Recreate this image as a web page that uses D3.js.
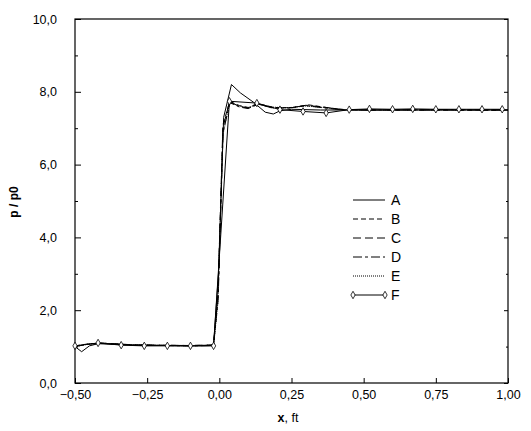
<html>
    <head>
        <meta charset="utf-8">
        <script src="https://d3js.org/d3.v7.min.js"></script>
        <style>
            body { margin: 0; background: #fff; }
            text { font-family: "Liberation Sans", Arial, sans-serif; fill: #000; }
            .axis .domain { stroke: none; }
            .axis line { stroke: #000; }
            .axis text { font-size: 12.5px; }
        </style>
    </head>
    <body>
        <svg height="431" width="531" id="chart"></svg>

        <script>
            // tick labels
            const xTicks = [-0.5, -0.25, 0, 0.25, 0.5, 0.75, 1.0];
            const yTicks = [0, 2, 4, 6, 8, 10];
            const yMinor = [1, 3, 5, 7, 9];
            const seriesNames = ["A", "B", "C", "D", "E", "F"];

            // A: thin solid line with the big overshoot
            const xA = [-0.5, -0.477, -0.45, -0.42, -0.3, -0.1, -0.02, -0.003, 0.015, 0.042, 0.073, 0.119, 0.159, 0.187, 0.211, 0.25, 0.35, 0.6, 1.0];
            const yA = [1.0, 0.86, 1.02, 1.08, 1.04, 1.02, 1.03, 3.0, 7.3, 8.2, 7.97, 7.71, 7.44, 7.39, 7.48, 7.52, 7.5, 7.5, 7.5];
            // B..E: the bundle
            const xB = [-0.5, -0.45, -0.4, -0.3, -0.1, -0.02, -0.004, 0.013, 0.036, 0.07, 0.1, 0.14, 0.19, 0.25, 0.31, 0.37, 0.43, 0.5, 0.75, 1.0];
            const yB = [1.02, 1.08, 1.09, 1.04, 1.03, 1.04, 2.5, 7.1, 7.74, 7.62, 7.57, 7.66, 7.57, 7.56, 7.64, 7.57, 7.51, 7.5, 7.5, 7.49];
            const xC = [-0.5, -0.46, -0.41, -0.3, -0.1, -0.02, -0.005, 0.012, 0.035, 0.07, 0.1, 0.13, 0.18, 0.24, 0.3, 0.36, 0.42, 0.5, 0.7, 1.0];
            const yC = [1.0, 1.06, 1.10, 1.05, 1.03, 1.05, 2.4, 7.0, 7.72, 7.6, 7.55, 7.68, 7.56, 7.55, 7.63, 7.58, 7.52, 7.5, 7.5, 7.5];
            const xD = [-0.5, -0.45, -0.4, -0.3, -0.1, -0.02, -0.004, 0.013, 0.037, 0.07, 0.1, 0.135, 0.19, 0.25, 0.3, 0.36, 0.43, 0.5, 0.8, 1.0];
            const yD = [1.01, 1.07, 1.09, 1.04, 1.02, 1.03, 2.3, 6.9, 7.7, 7.58, 7.54, 7.66, 7.55, 7.57, 7.62, 7.56, 7.5, 7.5, 7.51, 7.5];
            const xE = [-0.5, -0.45, -0.41, -0.3, -0.1, -0.02, -0.005, 0.012, 0.036, 0.07, 0.1, 0.13, 0.18, 0.24, 0.3, 0.36, 0.42, 0.5, 0.7, 1.0];
            const yE = [1.0, 1.07, 1.09, 1.05, 1.02, 1.04, 2.2, 6.8, 7.71, 7.61, 7.56, 7.67, 7.58, 7.56, 7.61, 7.57, 7.51, 7.5, 7.5, 7.5];
            // F: line with diamond markers
            const xF = [-0.5, -0.42, -0.34, -0.26, -0.18, -0.10, -0.02, 0.035, 0.13, 0.21, 0.29, 0.37, 0.45, 0.52, 0.60, 0.67, 0.75, 0.83, 0.91, 0.98];
            const yF = [1.02, 1.10, 1.04, 1.02, 1.02, 1.02, 1.02, 7.74, 7.69, 7.51, 7.46, 7.42, 7.51, 7.53, 7.52, 7.53, 7.52, 7.52, 7.52, 7.52];

            const svg = d3.select("#chart");
            const margin = { top: 19, right: 23, bottom: 48, left: 75 };
            const chartWidth = 531 - margin.left - margin.right;
            const chartHeight = 431 - margin.top - margin.bottom;

            const xScale = d3.scaleLinear().domain([-0.5, 1.0]).range([0, chartWidth]);
            const yScale = d3.scaleLinear().domain([0, 10]).range([chartHeight, 0]);

            const fmt = d => d3.format(".1f")(d).replace(".", ",");
            const fmtX = d => d3.format(".2f")(d).replace(".", ",");

            const g = svg.append("g").attr("transform", `translate(${margin.left},${margin.top})`);

            // frame
            g.append("rect")
                .attr("width", chartWidth).attr("height", chartHeight)
                .attr("fill", "none").attr("stroke", "black").attr("stroke-width", 1.2);

            // left axis, ticks point inward
            g.append("g").attr("class", "axis")
                .call(d3.axisLeft(yScale).tickValues(yTicks).tickSize(-6).tickSizeOuter(0)
                    .tickPadding(18).tickFormat(fmt));
            g.append("g").attr("class", "axis")
                .call(d3.axisLeft(yScale).tickValues(yMinor).tickSize(-3).tickSizeOuter(0).tickFormat(""));

            // right axis ticks
            g.append("g").attr("class", "axis")
                .attr("transform", `translate(${chartWidth},0)`)
                .call(d3.axisRight(yScale).tickValues(yTicks).tickSize(-4).tickSizeOuter(0).tickFormat(""));
            g.append("g").attr("class", "axis")
                .attr("transform", `translate(${chartWidth},0)`)
                .call(d3.axisRight(yScale).tickValues(yMinor).tickSize(-2).tickSizeOuter(0).tickFormat(""));

            // bottom axis
            g.append("g").attr("class", "axis")
                .attr("transform", `translate(0,${chartHeight})`)
                .call(d3.axisBottom(xScale).tickValues(xTicks).tickSize(-5).tickSizeOuter(0)
                    .tickPadding(7).tickFormat(fmtX));

            // axis titles
            const xt = svg.append("text")
                .attr("x", 288).attr("y", 422)
                .attr("text-anchor", "middle")
                .style("font-size", "12.5px");
            xt.append("tspan").style("font-weight", "bold").text("x");
            xt.append("tspan").text(", ft");

            svg.append("text")
                .attr("transform", "translate(18,202) rotate(-90)")
                .attr("text-anchor", "middle")
                .style("font-size", "12px")
                .style("font-weight", "bold")
                .text("p / p0");

            // series
            const dashes = ["", "5,3", "8,4", "9,3,3,3", "1,1", ""];
            const series = [[xA, yA], [xB, yB], [xC, yC], [xD, yD], [xE, yE], [xF, yF]];
            const line = d3.line().x(d => xScale(d[0])).y(d => yScale(d[1]));

            series.forEach(function (s, i) {
                const pts = d3.zip(s[0], s[1]);
                g.append("path")
                    .datum(pts)
                    .attr("d", line)
                    .attr("fill", "none")
                    .attr("stroke", "black")
                    .attr("stroke-width", 1)
                    .attr("stroke-dasharray", dashes[i]);
            });

            const diamond = d3.symbol().type(d3.symbolDiamond).size(16);
            g.selectAll("path.marker")
                .data(d3.zip(xF, yF))
                .join("path")
                .attr("class", "marker")
                .attr("d", diamond)
                .attr("transform", d => `translate(${xScale(d[0])},${yScale(d[1])})`)
                .attr("fill", "white")
                .attr("stroke", "black")
                .attr("stroke-width", 0.8);

            // legend
            const legend = svg.append("g").attr("transform", "translate(353,200)");
            seriesNames.forEach(function (name, i) {
                const row = legend.append("g").attr("transform", `translate(0,${i * 19})`);
                row.append("line")
                    .attr("x1", 0).attr("x2", 32)
                    .attr("stroke", "black").attr("stroke-width", 1)
                    .attr("stroke-dasharray", dashes[i]);
                row.append("text")
                    .attr("x", 38).attr("y", 5)
                    .style("font-size", "14px")
                    .text(name);
                if (name === "F") {
                    [0, 32].forEach(function (mx) {
                        row.append("path")
                            .attr("d", diamond)
                            .attr("transform", `translate(${mx},0)`)
                            .attr("fill", "white").attr("stroke", "black").attr("stroke-width", 0.8);
                    });
                }
            });
        </script>
    </body>
</html>
